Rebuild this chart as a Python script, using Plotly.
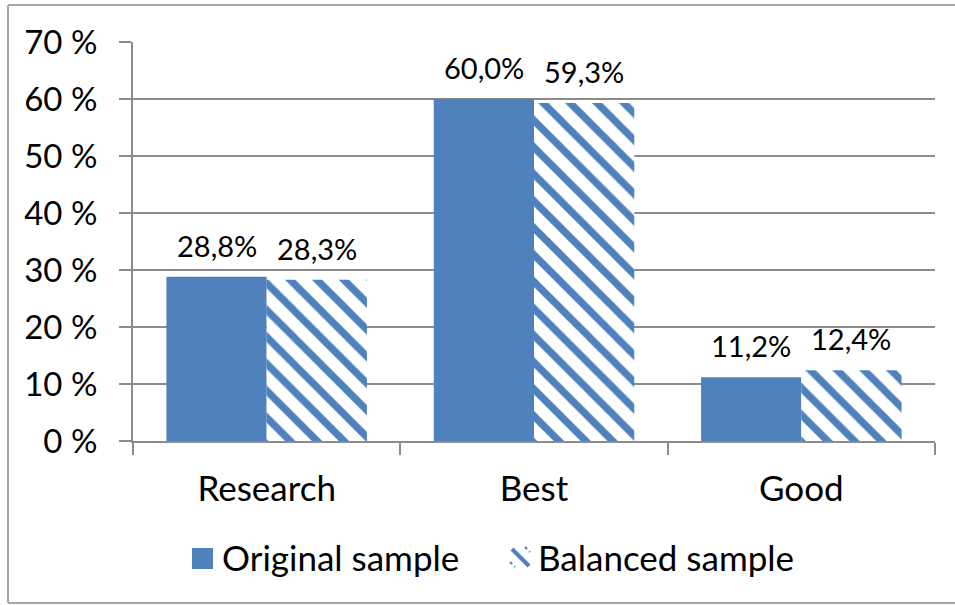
import plotly.graph_objects as go

categories = ["Research", "Best", "Good"]
original = [28.8, 60.0, 11.2]
balanced = [28.3, 59.3, 12.4]
series_names = ["Original sample", "Balanced sample"]
y_ticks = [0, 10, 20, 30, 40, 50, 60, 70]
y_tick_labels = [f"{v} %" for v in y_ticks]

BLUE = "#4F81BD"
GRID = "#8C8C8C"
FONT = "Lato"

W, H = 955, 605
L, R, T, B = 133, 20, 42, 164
PW, PH = W - L - R, H - T - B


def px(x):
    return (x - L) / PW


def py(y):
    return (H - B - y) / PH


def fmt(v):
    return f"{v:.1f}".replace(".", ",") + "%"


fig = go.Figure()
fig.add_trace(go.Bar(
    x=categories, y=original, name=series_names[0],
    marker=dict(color=BLUE, line=dict(width=0)),
    showlegend=False,
))
fig.add_trace(go.Bar(
    x=categories, y=balanced, name=series_names[1],
    marker=dict(color="white", line=dict(width=0),
                pattern=dict(shape="\\", fgcolor=BLUE, bgcolor="white",
                             size=19, solidity=0.38, fillmode="replace")),
    showlegend=False,
))

annotations = []
for cat, v in zip(categories, original):
    annotations.append(dict(x=cat, y=v, xref="x", yref="y", text=fmt(v),
                            showarrow=False, xshift=-50, yshift=12, yanchor="bottom",
                            font=dict(family=FONT, size=29, color="black")))
for cat, v in zip(categories, balanced):
    annotations.append(dict(x=cat, y=v, xref="x", yref="y", text=fmt(v),
                            showarrow=False, xshift=50, yshift=12, yanchor="bottom",
                            font=dict(family=FONT, size=29, color="black")))

# manual legend
annotations.append(dict(x=px(220), y=py(557), xref="paper", yref="paper", text=series_names[0],
                        showarrow=False, xanchor="left", yanchor="middle",
                        font=dict(family=FONT, size=35, color="black")))
annotations.append(dict(x=px(536), y=py(557), xref="paper", yref="paper", text=series_names[1],
                        showarrow=False, xanchor="left", yanchor="middle",
                        font=dict(family=FONT, size=35, color="black")))

shapes = [
    # outer border
    dict(type="line", xref="paper", yref="paper", x0=px(8), x1=px(8), y0=py(5), y1=py(603),
         line=dict(color="#A6A6A6", width=2)),
    dict(type="line", xref="paper", yref="paper", x0=px(8), x1=px(960), y0=py(5), y1=py(5),
         line=dict(color="#A6A6A6", width=2)),
    dict(type="line", xref="paper", yref="paper", x0=px(8), x1=px(960), y0=py(603), y1=py(603),
         line=dict(color="#A6A6A6", width=2)),
    # legend icons
    dict(type="rect", xref="paper", yref="paper", x0=px(192), x1=px(213), y0=py(548), y1=py(569),
         fillcolor=BLUE, line=dict(width=0)),
    dict(type="line", xref="paper", yref="paper", x0=px(512), x1=px(529), y0=py(549), y1=py(566),
         line=dict(color=BLUE, width=4)),
    dict(type="line", xref="paper", yref="paper", x0=px(525), x1=px(530), y0=py(547), y1=py(552),
         line=dict(color=BLUE, width=2, dash="dot")),
    dict(type="line", xref="paper", yref="paper", x0=px(510), x1=px(515), y0=py(562), y1=py(567),
         line=dict(color=BLUE, width=2, dash="dot")),
]

fig.update_layout(
    width=W, height=H,
    margin=dict(l=L, r=R, t=T, b=B),
    paper_bgcolor="white", plot_bgcolor="white",
    barmode="group", bargap=0.25, bargroupgap=0,
    font=dict(family=FONT, color="black"),
    annotations=annotations, shapes=shapes,
    showlegend=False,
)
fig.update_xaxes(
    type="category", showline=True, linecolor=GRID, linewidth=2,
    ticks="outside", tickson="boundaries", ticklen=12, tickwidth=2, tickcolor=GRID,
    tickfont=dict(family=FONT, size=35, color="black"), ticklabelstandoff=16,
    showgrid=False,
)
fig.update_yaxes(
    range=[0, 70], tickvals=y_ticks, ticktext=y_tick_labels,
    showline=True, linecolor=GRID, linewidth=2,
    ticks="outside", ticklen=12, tickwidth=2, tickcolor=GRID,
    showgrid=True, gridcolor=GRID, gridwidth=2, zeroline=False,
    tickfont=dict(family=FONT, size=33, color="black"), ticklabelstandoff=15,
)

fig.write_html("out.html", config={"displayModeBar": False},
               post_script="document.body.style.margin='0';")
